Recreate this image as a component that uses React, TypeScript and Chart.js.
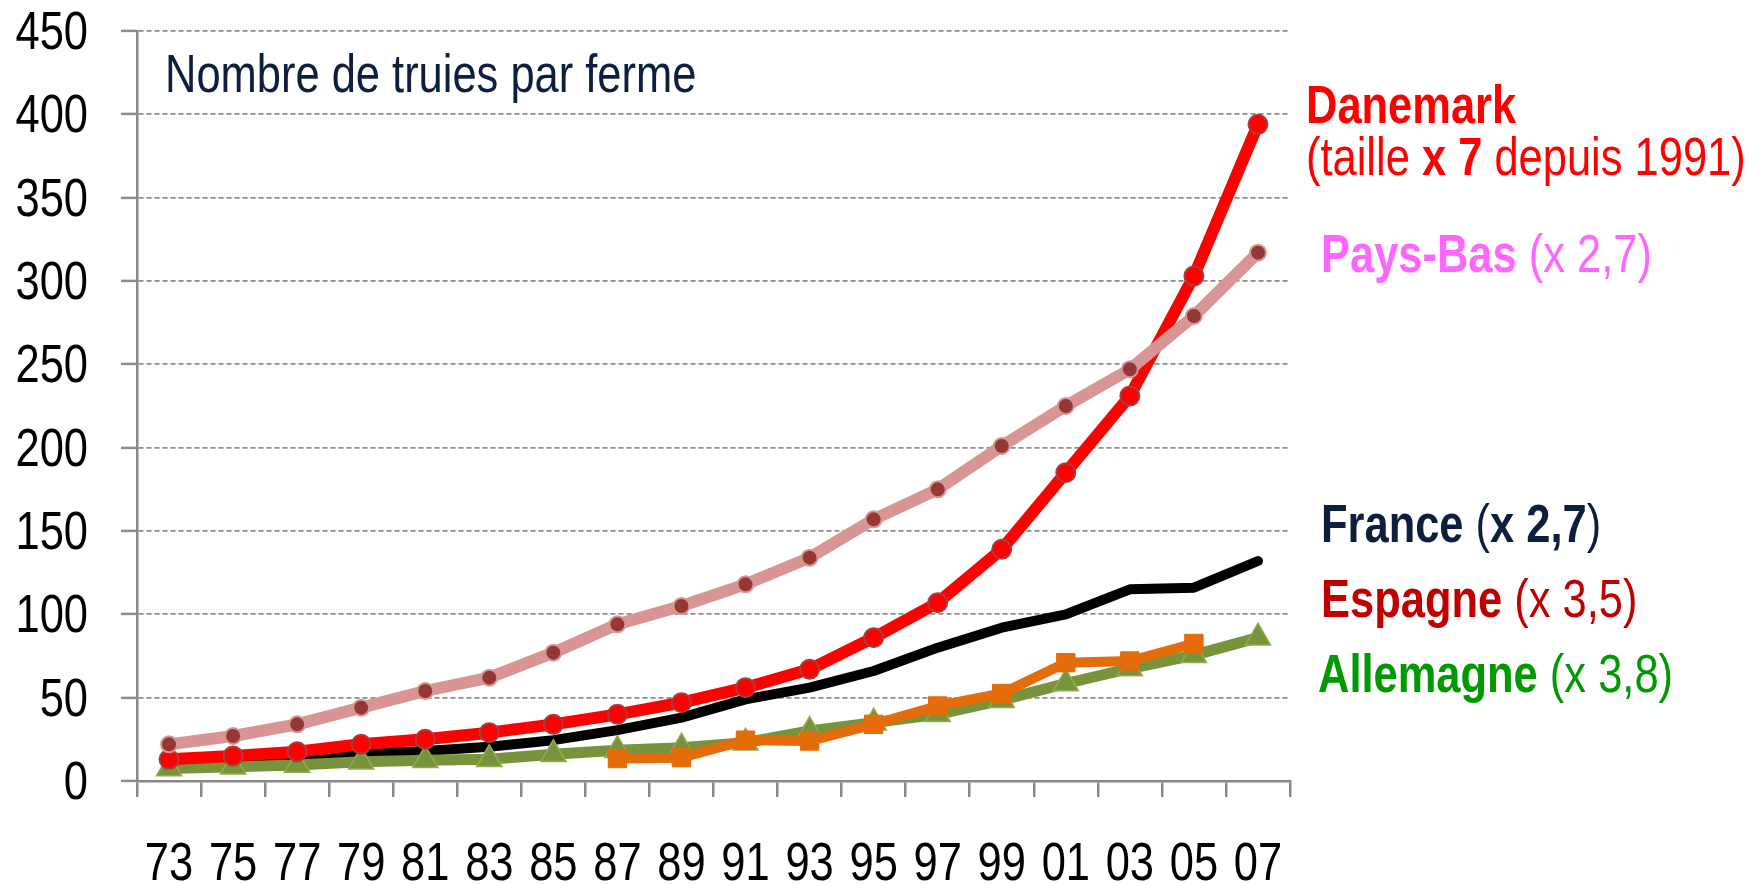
import React, { useEffect, useRef } from "react";
import { Chart, registerables } from "chart.js";

Chart.register(...registerables);

const years = ["73", "75", "77", "79", "81", "83", "85", "87", "89", "91", "93", "95", "97", "99", "01", "03", "05", "07"];
const paysBas = [22, 27, 34, 44, 54, 62, 77, 94, 105, 118, 134, 157, 175, 201, 225, 247, 279, 317];
const danemark = [13, 15, 17.5, 22, 25, 29, 34, 40, 47, 56, 67, 86, 107, 139, 185, 231, 303, 394];
const france = [10, 12, 14, 16.5, 18, 20.5, 24.5, 30.5, 38, 49, 56, 66, 80, 92, 100, 115, 116, 132];
const allemagne = [7.5, 8.5, 9.6, 11.5, 12.5, 13, 16, 18.5, 20, 23, 30, 35, 40, 48.5, 58.5, 67.5, 75.5, 86];
const espagne = [null, null, null, null, null, null, null, 13.5, 14, 24.5, 24, 34, 45, 52.5, 71, 72, 82.5];
const yTicks = [0, 50, 100, 150, 200, 250, 300, 350, 400, 450];

const title = "Nombre de truies par ferme";
const FONT = "'Liberation Sans', Arial, sans-serif";
const SX = 0.82; // horizontal condensation to mimic Arial Narrow

type Run = { t: string; b: boolean; c: string };
const annotations: { x: number; y: number; runs: Run[] }[] = [
  { x: 1306, y: 123, runs: [{ t: "Danemark", b: true, c: "#ff0000" }] },
  {
    x: 1306,
    y: 175,
    runs: [
      { t: "(taille ", b: false, c: "#ff0000" },
      { t: "x 7", b: true, c: "#ff0000" },
      { t: " depuis 1991)", b: false, c: "#ff0000" },
    ],
  },
  {
    x: 1321,
    y: 272,
    runs: [
      { t: "Pays-Bas", b: true, c: "#ff66ff" },
      { t: " (x 2,7)", b: false, c: "#ff66ff" },
    ],
  },
  {
    x: 1321,
    y: 542,
    runs: [
      { t: "France", b: true, c: "#0d1f3c" },
      { t: " (", b: false, c: "#0d1f3c" },
      { t: "x 2,7", b: true, c: "#0d1f3c" },
      { t: ")", b: false, c: "#0d1f3c" },
    ],
  },
  {
    x: 1321,
    y: 617,
    runs: [
      { t: "Espagne", b: true, c: "#c00000" },
      { t: " (x 3,5)", b: false, c: "#c00000" },
    ],
  },
  {
    x: 1318,
    y: 692,
    runs: [
      { t: "Allemagne", b: true, c: "#009900" },
      { t: " (x 3,8)", b: false, c: "#009900" },
    ],
  },
];

function drawText(
  ctx: CanvasRenderingContext2D,
  text: string,
  x: number,
  y: number,
  align: CanvasTextAlign,
  font: string,
  color: string
) {
  ctx.save();
  ctx.translate(x, y);
  ctx.scale(SX, 1);
  ctx.font = font;
  ctx.fillStyle = color;
  ctx.textAlign = align;
  ctx.textBaseline = "alphabetic";
  ctx.fillText(text, 0, 0);
  ctx.restore();
}

const textPlugin = {
  id: "texts",
  afterDraw(chart: any) {
    const ctx = chart.ctx as CanvasRenderingContext2D;
    const xs = chart.scales.x;
    const ys = chart.scales.y;
    const tickFont = `53px ${FONT}`;
    yTicks.forEach((v) => {
      const py = ys.getPixelForValue(v);
      drawText(ctx, String(v), 88, py + 18, "right", tickFont, "#000000");
    });
    years.forEach((lab, i) => {
      const px = xs.getPixelForValue(i);
      drawText(ctx, lab, px, 880, "center", tickFont, "#000000");
    });
    drawText(ctx, title, 165, 92, "left", `53px ${FONT}`, "#0d1f3c");
    for (const a of annotations) {
      let x = a.x;
      for (const r of a.runs) {
        const f = `${r.b ? "bold " : ""}53px ${FONT}`;
        drawText(ctx, r.t, x, a.y, "left", f, r.c);
        ctx.save();
        ctx.font = f;
        x += ctx.measureText(r.t).width * SX;
        ctx.restore();
      }
    }
  },
};

export default function App() {
  const ref = useRef<HTMLCanvasElement | null>(null);
  useEffect(() => {
    if (!ref.current) return;
    const chart = new Chart(ref.current, {
      type: "line",
      data: {
        labels: years,
        datasets: [
          {
            label: "Pays-Bas",
            data: paysBas,
            borderColor: "#d99594",
            borderWidth: 12,
            pointStyle: "circle",
            pointRadius: 8,
            pointBackgroundColor: "#953735",
            pointBorderColor: "#d99594",
            pointBorderWidth: 2,
            tension: 0,
            borderJoinStyle: "round",
          },
          {
            label: "Danemark",
            data: danemark,
            borderColor: "#ff0000",
            borderWidth: 12,
            pointStyle: "circle",
            pointRadius: 9.5,
            pointBackgroundColor: "#ff0000",
            pointBorderColor: "#a3403f",
            pointBorderWidth: 2,
            tension: 0,
            borderJoinStyle: "round",
          },
          {
            label: "Espagne",
            data: espagne,
            borderColor: "#e46c0a",
            borderWidth: 10,
            pointStyle: "rect",
            pointRadius: 13,
            pointBackgroundColor: "#e46c0a",
            pointBorderColor: "#e46c0a",
            pointBorderWidth: 1,
            tension: 0,
            borderJoinStyle: "round",
          },
          {
            label: "Allemagne",
            data: allemagne,
            borderColor: "#77933c",
            borderWidth: 11,
            pointStyle: "triangle",
            pointRadius: 14.5,
            pointBackgroundColor: "#77933c",
            pointBorderColor: "#8fae4f",
            pointBorderWidth: 1.5,
            tension: 0,
            borderJoinStyle: "round",
          },
          {
            label: "France",
            data: france,
            borderColor: "#000000",
            borderWidth: 10,
            pointRadius: 0,
            tension: 0,
            borderCapStyle: "round",
            borderJoinStyle: "round",
          },
        ],
      },
      options: {
        responsive: false,
        animation: false,
        devicePixelRatio: 1,
        layout: { padding: { left: 0, right: 474, top: 31, bottom: 0 } },
        plugins: {
          legend: { display: false },
          tooltip: { enabled: false },
        },
        scales: {
          x: {
            type: "category",
            offset: true,
            grid: {
              offset: true,
              drawOnChartArea: false,
              drawTicks: true,
              tickLength: 16,
              color: "#888888",
              lineWidth: 2.5,
            },
            border: { display: true, color: "#888888", width: 2.5 },
            ticks: { display: false, autoSkip: false },
            afterFit: (s: any) => {
              s.height = 104;
              s.paddingLeft = 0;
              s.paddingRight = 0;
            },
          },
          y: {
            min: 0,
            max: 450,
            afterBuildTicks: (s: any) => {
              s.ticks = yTicks.map((v) => ({ value: v }));
            },
            grid: {
              color: "#8c8c8c",
              lineWidth: 1.8,
              tickLength: 16,
              tickColor: "#8c8c8c",
              tickWidth: 2.5,
              tickBorderDash: [],
            },
            border: { display: true, color: "#888888", width: 2.5, dash: [5, 3] },
            ticks: { display: false },
            afterFit: (s: any) => {
              s.width = 137;
              s.paddingTop = 0;
              s.paddingBottom = 0;
            },
          },
        },
      },
      plugins: [textPlugin],
    } as any);
    return () => chart.destroy();
  }, []);
  return (
    <div style={{ position: "fixed", left: 0, top: 0, width: 1764, height: 885, background: "#fff" }}>
      <canvas ref={ref} width={1764} height={885} style={{ width: 1764, height: 885, display: "block" }} />
    </div>
  );
}
